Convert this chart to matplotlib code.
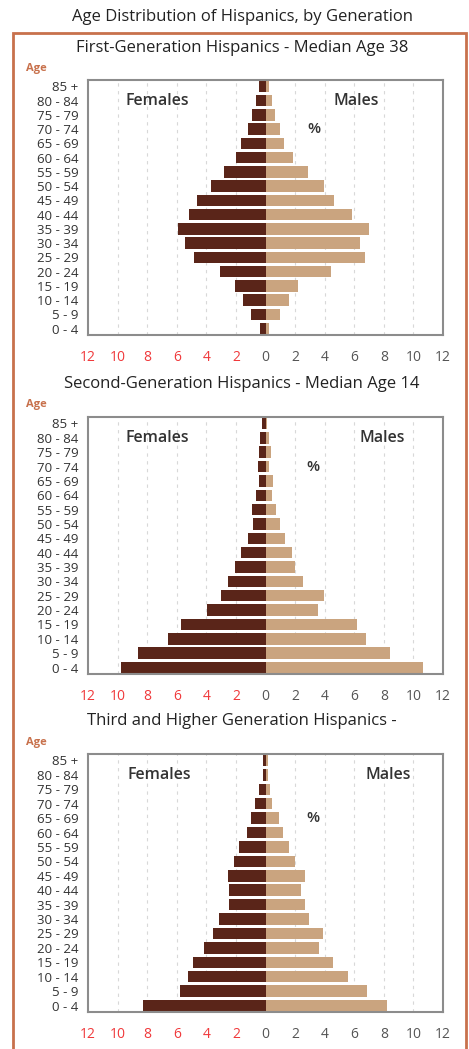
import numpy as np
import matplotlib
matplotlib.use("Agg")
from matplotlib import pyplot as plt
from matplotlib.patches import Rectangle

plt.rcParams['font.family'] = ['Open Sans', 'DejaVu Sans']

age_groups = ['0 - 4', '5 - 9', '10 - 14', '15 - 19', '20 - 24', '25 - 29', '30 - 34',
              '35 - 39', '40 - 44', '45 - 49', '50 - 54', '55 - 59', '60 - 64',
              '65 - 69', '70 - 74', '75 - 79', '80 - 84', '85 +']

# percent of each generation, youngest group first
first_females = [0.36, 0.99, 1.49, 2.05, 3.06, 4.82, 5.45, 5.90, 5.14, 4.62, 3.69,
                 2.82, 1.98, 1.69, 1.19, 0.92, 0.63, 0.47]
first_males = [0.27, 0.95, 1.58, 2.23, 4.44, 6.73, 6.42, 7.03, 5.83, 4.62, 3.94,
               2.86, 1.85, 1.28, 0.95, 0.63, 0.45, 0.23]

second_females = [9.75, 8.60, 6.60, 5.68, 3.96, 3.04, 2.55, 2.03, 1.64, 1.19, 0.86,
                  0.90, 0.63, 0.45, 0.50, 0.45, 0.34, 0.22]
second_males = [10.68, 8.42, 6.80, 6.17, 3.54, 3.94, 2.52, 2.00, 1.76, 1.35, 0.95,
                0.68, 0.45, 0.50, 0.27, 0.38, 0.23, 0.11]

third_females = [8.29, 5.77, 5.25, 4.91, 4.17, 3.54, 3.11, 2.50, 2.50, 2.55, 2.16,
                 1.80, 1.22, 1.01, 0.74, 0.45, 0.20, 0.20]
third_males = [8.22, 6.85, 5.56, 4.59, 3.60, 3.87, 2.97, 2.64, 2.39, 2.64, 1.98,
               1.58, 1.17, 0.90, 0.45, 0.32, 0.16, 0.16]

titles = ['First-Generation Hispanics - Median Age 38',
          'Second-Generation Hispanics - Median Age 14',
          'Third and Higher Generation Hispanics -']
tick_values = [-12, -10, -8, -6, -4, -2, 0, 2, 4, 6, 8, 10, 12]
tick_labels = ['12', '10', '8', '6', '4', '2', '0', '2', '4', '6', '8', '10', '12']

female_color = '#5a2519'
male_color = '#caa47f'
border_color = '#c8714c'
red_tick = '#f0393b'

W, H = 469, 1049
fig = plt.figure(figsize=(W / 100, H / 100), dpi=100)

fig.text(242 / W, 1 - 17 / H, 'Age Distribution of Hispanics, by Generation',
         ha='center', va='center', fontsize=12, color='#222222')
fig.patches.append(Rectangle((13 / W, -0.01), 453 / W, 1 - 33 / H + 0.01,
                             transform=fig.transFigure, fill=False,
                             edgecolor=border_color, linewidth=2))

panels = [(first_females, first_males, 80, 255, (-7.3, 16), (6.1, 16), (3.3, 14)),
          (second_females, second_males, 417, 257, (-7.3, 16), (7.9, 16), (3.2, 14)),
          (third_females, third_males, 754, 258, (-7.2, 16), (8.3, 16), (3.2, 13))]

y = np.arange(len(age_groups))
for i, (fem, mal, top, h, fpos, mpos, ppos) in enumerate(panels):
    ax = fig.add_axes([88 / W, 1 - (top + h) / H, 355 / W, h / H])
    ax.barh(y, -np.array(fem), height=0.8, color=female_color, zorder=2)
    ax.barh(y, mal, height=0.8, color=male_color, zorder=2)
    ax.set_xlim(-12, 12)
    ax.set_ylim(-0.45, 17.45)
    for gx in [-10, -8, -6, -4, -2, 2, 4, 6, 8, 10]:
        ax.axvline(gx, color='#d8d8d8', linestyle=(0, (3, 4)), linewidth=0.8, zorder=1)
    for s in ax.spines.values():
        s.set_color('#8c8c8c')
        s.set_linewidth(1.5)
    ax.set_yticks(y)
    ax.set_yticklabels(age_groups, fontsize=9.5, color='#333333')
    ax.set_xticks(tick_values)
    ax.set_xticklabels(tick_labels, fontsize=10)
    for lab, v in zip(ax.get_xticklabels(), tick_values):
        lab.set_color(red_tick if v < 0 else '#555555')
    ax.tick_params(axis='both', length=0)
    ax.tick_params(axis='x', pad=11)
    ax.tick_params(axis='y', pad=7)

    ax.text(fpos[0], fpos[1], 'Females', ha='center', va='center', fontsize=11.5,
            fontweight='semibold', color='#333333')
    ax.text(mpos[0], mpos[1], 'Males', ha='center', va='center', fontsize=11.5,
            fontweight='semibold', color='#333333')
    ax.text(ppos[0], ppos[1], '%', ha='center', va='center', fontsize=11,
            fontweight='semibold', color='#333333')

    sub_y = top - 32 if i == 0 else top - 33
    fig.text(242 / W, 1 - sub_y / H, titles[i], ha='center', va='center',
             fontsize=12, color='#222222')
    fig.text(26 / W, 1 - (top - 12) / H, 'Age', ha='left', va='center',
             fontsize=8, fontweight='bold', color=border_color)

fig.savefig('out.png', dpi=100)
